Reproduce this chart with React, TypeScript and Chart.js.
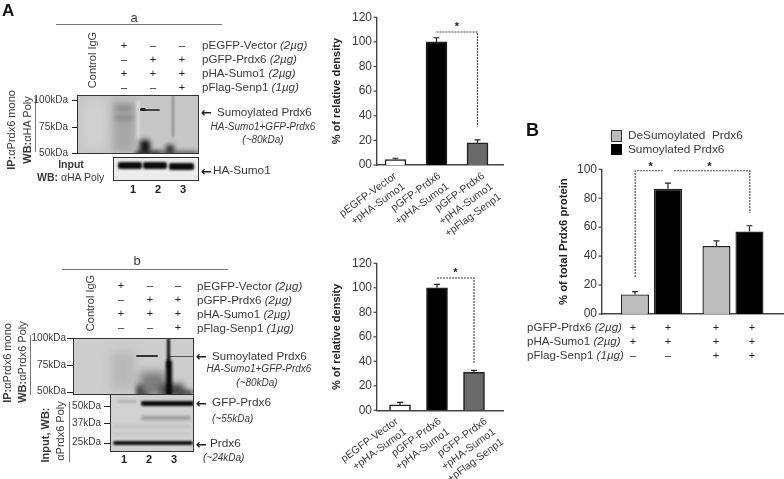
import React, { useEffect, useRef } from "react";
import { Chart, registerables } from "chart.js";

Chart.register(...registerables);

// ---------- data ----------
const barLabelsA: string[][] = [
  ["pEGFP-Vector", "+pHA-Sumo1"],
  ["pGFP-Prdx6", "+pHA-Sumo1"],
  ["pGFP-Prdx6", "+pHA-Sumo1", "+pFlag-Senp1"],
];
const densityA = [4.5, 100, 18];
const densityErrA = [1, 3.4, 2.4];
const densityB = [4.5, 100, 31];
const densityErrB = [2, 2.8, 1.6];
const barFills = ["#ffffff", "#000000", "#6a6a6a"];
const groupLabels = ["Vector", "Senp1"];
const deSumoValues = [13.5, 47];
const deSumoErr = [2, 3.5];
const sumoValues = [86.5, 57];
const sumoErr = [4, 4];
const ticksA = [0, 20, 40, 60, 80, 100, 120];
const ticksB = [0, 20, 40, 60, 80, 100];
const bracketsA = [{ from: 2, to: 3, level: 108, leftDrop: 108, rightDrop: 31, star: 2.5, starLevel: 114 }];
const bracketsB = [{ from: 2, to: 3, level: 108, leftDrop: 108, rightDrop: 38, star: 2.5, starLevel: 114 }];
const bracketsC = [
  { from: 0.8, to: 1.137, level: 99, leftDrop: 25.5, rightDrop: 99, star: 0.99, starLevel: 103 },
  { from: 1.276, to: 2.207, level: 99, leftDrop: 99, rightDrop: 70, star: 1.71, starLevel: 103 },
];

const FONT = "'Liberation Sans', Arial, sans-serif";
const INK = "#3a3a3a";

// ---------- chart plugin ----------
type Bracket = (typeof bracketsA)[number];
const annotate = (brackets: Bracket[]) => ({
  id: "annotate",
  afterDatasetsDraw(chart: any) {
    const { ctx, scales } = chart;
    const x = scales.x;
    const y = scales.y;
    ctx.save();
    chart.data.datasets.forEach((ds: any, di: number) => {
      const meta = chart.getDatasetMeta(di);
      meta.data.forEach((bar: any, i: number) => {
        const top = y.getPixelForValue(ds.data[i].y + ds.errors[i]);
        ctx.strokeStyle = "#222";
        ctx.lineWidth = 1.2;
        ctx.beginPath();
        ctx.moveTo(bar.x, bar.y);
        ctx.lineTo(bar.x, top);
        ctx.moveTo(bar.x - 3, top);
        ctx.lineTo(bar.x + 3, top);
        ctx.stroke();
      });
    });
    ctx.strokeStyle = "#444";
    ctx.lineWidth = 1.1;
    ctx.setLineDash([2, 1]);
    brackets.forEach((b) => {
      ctx.beginPath();
      ctx.moveTo(x.getPixelForValue(b.from), y.getPixelForValue(b.leftDrop));
      ctx.lineTo(x.getPixelForValue(b.from), y.getPixelForValue(b.level));
      ctx.lineTo(x.getPixelForValue(b.to), y.getPixelForValue(b.level));
      ctx.lineTo(x.getPixelForValue(b.to), y.getPixelForValue(b.rightDrop));
      ctx.stroke();
    });
    ctx.setLineDash([]);
    ctx.fillStyle = "#222";
    ctx.font = `bold 11px ${FONT}`;
    ctx.textAlign = "center";
    ctx.textBaseline = "middle";
    brackets.forEach((b) => {
      ctx.fillText("*", x.getPixelForValue(b.star), y.getPixelForValue(b.starLevel) + 2);
    });
    ctx.restore();
  },
});

interface PanelProps {
  left: number; top: number; width: number; height: number;
  axisX: number; axisRight: number; axisTop: number; axisBottom: number;
  xMin: number; xMax: number; yMax: number; yTicks: number[]; yTitle: string;
  labels: string[][]; labelShift?: number[]; datasets: any[]; brackets: Bracket[]; titleSize: number;
  barOpts: any;
}

function Panel(p: PanelProps) {
  const ref = useRef<HTMLCanvasElement>(null);
  useEffect(() => {
    const chart = new Chart(ref.current as HTMLCanvasElement, {
      type: "bar",
      data: { datasets: p.datasets },
      options: {
        animation: false,
        responsive: false,
        events: [],
        layout: {
          padding: { top: p.axisTop - p.top, right: p.left + p.width - p.axisRight, left: 0, bottom: 0 },
        },
        plugins: { legend: { display: false }, tooltip: { enabled: false } },
        datasets: { bar: p.barOpts },
        scales: {
          x: {
            type: "linear",
            offset: false,
            min: p.xMin,
            max: p.xMax,
            grid: { display: false },
            border: { color: "#444", width: 1.4 },
            afterBuildTicks(s: any) {
              s.ticks = p.labels.map((_, i) => ({ value: i + 1 }));
            },
            afterFit(s: any) {
              s.height = p.top + p.height - p.axisBottom;
              s.paddingLeft = 0; s.paddingRight = 0;
            },
            ticks: { display: false },
          },
          y: {
            min: 0,
            max: p.yMax,
            grid: { display: false, drawTicks: false },
            border: { color: "#444", width: 1.4 },
            afterBuildTicks(s: any) {
              s.ticks = p.yTicks.map((value) => ({ value }));
            },
            afterFit(s: any) {
              s.width = p.axisX - p.left;
              s.paddingTop = 0; s.paddingBottom = 0;
            },
            title: {
              display: true,
              text: p.yTitle,
              color: "#222",
              padding: { top: 0, bottom: 0 },
              font: { family: FONT, size: p.titleSize, weight: "bold" },
            },
            ticks: {
              color: INK,
              padding: 5,
              font: { family: FONT, size: 12 },
              callback: (v: any) => (Number(v) === 0 ? "00" : String(v)),
            },
          },
        },
      } as any,
      plugins: [
        annotate(p.brackets),
        {
          id: "axisMarks",
          afterDraw(c: any) {
            const { ctx, scales } = c;
            ctx.save();
            ctx.strokeStyle = "#444";
            ctx.lineWidth = 1.2;
            p.yTicks.forEach((t) => {
              const yy = scales.y.getPixelForValue(t);
              ctx.beginPath();
              ctx.moveTo(scales.x.left - 3.5, yy);
              ctx.lineTo(scales.x.left, yy);
              ctx.stroke();
            });
            if (p.labelShift) {
              ctx.fillStyle = INK;
              ctx.font = `10.5px ${FONT}`;
              ctx.textAlign = "right";
              ctx.textBaseline = "middle";
              p.labels.forEach((lines, i) => {
                lines.forEach((text, k) => {
                  ctx.save();
                  ctx.translate(
                    scales.x.getPixelForValue(i + 1) + (p.labelShift as number[])[i] + 8.2 * k,
                    scales.y.bottom + 10 + 10.4 * k
                  );
                  ctx.rotate((-36 * Math.PI) / 180);
                  ctx.fillText(text, 0, 0);
                  ctx.restore();
                });
              });
            }
            ctx.restore();
          },
        },
      ],
    });
    return () => chart.destroy();
  }, []);
  return (
    <canvas
      ref={ref}
      width={p.width}
      height={p.height}
      style={{ position: "absolute", left: p.left, top: p.top, width: p.width, height: p.height }}
    />
  );
}

// ---------- text helpers ----------
function T(props: {
  x: number; y: number; s?: number; b?: boolean; i?: boolean; a?: "l" | "c" | "r"; rot?: boolean;
  c?: string; f?: string; children: React.ReactNode;
}) {
  const { x, y, s = 11.5, b, i, a = "l", rot, c = INK, f = FONT, children } = props;
  const tx = a === "l" ? "0" : a === "c" ? "-50%" : "-100%";
  return (
    <div
      style={{
        position: "absolute", left: x, top: y, whiteSpace: "pre", lineHeight: 1, fontFamily: f, fontSize: s,
        fontWeight: b ? 700 : 400, fontStyle: i ? "italic" : "normal", color: c,
        transform: rot ? "translate(-50%,-50%) rotate(-90deg)" : `translate(${tx},-50%)`,
      }}
    >
      {children}
    </div>
  );
}
const Line = ({ x, y, w, h, c = "#777" }: { x: number; y: number; w: number; h: number; c?: string }) => (
  <div style={{ position: "absolute", left: x, top: y, width: w, height: h, background: c }} />
);
const Arrow = ({ x, y }: { x: number; y: number }) => (
  <T x={x} y={y} s={13} b c="#222" f="'DejaVu Sans', sans-serif">←</T>
);

type Smear = [number, number, number, number, string, number];
function Blot({ x, y, w, h, bg, smears }: { x: number; y: number; w: number; h: number; bg: string; smears: Smear[] }) {
  return (
    <div
      style={{
        position: "absolute", left: x, top: y, width: w, height: h, background: bg, overflow: "hidden",
        boxSizing: "border-box", border: "1px solid #333",
      }}
    >
      {smears.map(([sx, sy, sw, sh, c, bl], k) => (
        <div
          key={k}
          style={{
            position: "absolute", left: sx - x - 1, top: sy - y - 1, width: sw, height: sh, background: c,
            filter: `blur(${bl}px)`, borderRadius: 2,
          }}
        />
      ))}
    </div>
  );
}

function Signs({ xs, ys, rows }: { xs: number[]; ys: number[]; rows: string[] }) {
  return (
    <>
      {rows.map((row, r) =>
        row.split("").map((ch, k) => (
          <T key={`${r}-${k}`} x={xs[k]} y={ys[r]} a="c" s={11} c="#222">
            {ch === "+" ? "+" : "–"}
          </T>
        ))
      )}
    </>
  );
}

const MU = "\u00b5g";
const planRows = [
  ["pEGFP-Vector ", `(2${MU})`],
  ["pGFP-Prdx6 ", `(2${MU})`],
  ["pHA-Sumo1 ", `(2${MU})`],
  ["pFlag-Senp1 ", `(1${MU})`],
];
const signRows = ["+--", "-++", "+++", "--+"];
const signRowsB = ["++++", "++++", "--++"];
const planRowsB = [
  ["pGFP-Prdx6 ", `(2${MU})`],
  ["pHA-Sumo1 ", `(2${MU})`],
  ["pFlag-Senp1 ", `(1${MU})`],
];

const single = (vals: number[], errs: number[]) => [
  {
    data: vals.map((y, i) => ({ x: i + 1, y })),
    errors: errs,
    backgroundColor: barFills,
    borderColor: "#222",
    borderWidth: 1.6,
  },
];
const pairs = [
  {
    label: "DeSumoylated  Prdx6",
    data: deSumoValues.map((y, i) => ({ x: i + 1, y })),
    errors: deSumoErr,
    backgroundColor: "#bdbdbd",
    borderColor: "#222",
    borderWidth: 1.4,
  },
  {
    label: "Sumoylated Prdx6",
    data: sumoValues.map((y, i) => ({ x: i + 1, y })),
    errors: sumoErr,
    backgroundColor: "#000000",
    borderColor: "#222",
    borderWidth: 1.4,
  },
];

export default function App() {
  return (
    <div
      style={{
        position: "absolute", left: 0, top: 0, width: 784, height: 479, overflow: "hidden",
        filter: "blur(0.4px)", opacity: 0.999, willChange: "opacity",
      }}
    >
      {/* Panel A a */}
      <T x={2} y={10} s={17} b c="#111">A</T>
      <T x={134} y={17} s={13} a="c">a</T>
      <Line x={56} y={23.5} w={166} h={1} />
      <T x={92} y={60} s={11} rot>Control IgG</T>
      <Signs xs={[124, 153, 182]} ys={[45, 59, 73, 87]} rows={signRows} />
      {planRows.map(([n, d], k) => (
        <T key={k} x={202} y={[45, 59, 73, 87][k]} s={11.6}>{n}<i>{d}</i></T>
      ))}
      <T x={11} y={130} s={11} rot><b>IP:</b>αPrdx6 mono</T>
      <T x={27} y={130} s={11} rot><b>WB:</b>αHA Poly</T>
      <Line x={35} y={97} w={1} h={55} />
      <T x={68} y={100} s={10} a="r">100kDa</T>
      <T x={68} y={127} s={10} a="r">75kDa</T>
      <T x={68} y={153} s={10} a="r">50kDa</T>
      <Line x={72} y={99.5} w={5} h={1} c="#222" />
      <Line x={72} y={126.5} w={5} h={1} c="#222" />
      <Line x={72} y={152.5} w={5} h={1} c="#222" />
      <Blot
        x={77} y={95} w={122} h={59} bg="#c6c6c6"
        smears={[
          [82, 100, 26, 50, "#cfcfcf", 5],
          [113, 100, 22, 52, "#a6a6a6", 4],
          [115, 106, 18, 4, "#888", 2],
          [115, 115, 18, 6, "#8c8c8c", 2.5],
          [137, 100, 3, 40, "#ddd", 1.5],
          [141, 108.5, 19, 2, "#444", 0.6],
          [140, 108, 6, 2.5, "#222", 0.7],
          [140, 140, 10, 16, "#111", 2.5],
          [135, 151, 25, 5, "#333", 2],
          [166, 145, 8, 12, "#222", 2.5],
          [172, 95, 2, 42, "#888", 0.8],
          [152, 151, 46, 4, "#555", 2],
        ]}
      />
      <T x={71} y={164} s={10.5} a="c" b>Input</T>
      <T x={37} y={177} s={10.5}><b>WB:</b> αHA Poly</T>
      <Blot
        x={113} y={157} w={86} h={24} bg="#ececec"
        smears={[
          [118, 162, 24, 7, "#0c0c0c", 1],
          [143, 162, 24, 7, "#0c0c0c", 1],
          [169, 163, 25, 7, "#0c0c0c", 1],
        ]}
      />
      <Arrow x={201} y={112} />
      <T x={217} y={112} s={11.6}>Sumoylated Prdx6</T>
      <T x={263} y={127} s={10} a="c" i>HA-Sumo1+GFP-Prdx6</T>
      <T x={263} y={140} s={10} a="c" i>(~80kDa)</T>
      <Arrow x={201} y={171} />
      <T x={213} y={171} s={11.8}>HA-Sumo1</T>
      {["1", "2", "3"].map((n, k) => (
        <T key={n} x={[133, 158, 183][k]} y={189} s={11} a="c" b c="#222">{n}</T>
      ))}

      {/* Panel A b */}
      <T x={137} y={260} s={13} a="c">b</T>
      <Line x={62} y={268.5} w={166} h={1} />
      <T x={90} y={303} s={11} rot>Control IgG</T>
      <Signs xs={[121, 150, 178]} ys={[285, 299, 313, 327]} rows={signRows} />
      {planRows.map(([n, d], k) => (
        <T key={k} x={197} y={[286, 300, 314, 328][k]} s={11.6}>{n}<i>{d}</i></T>
      ))}
      <T x={7} y={363} s={11} rot><b>IP:</b>αPrdx6 mono</T>
      <T x={22} y={362} s={11} rot><b>WB:</b>αPrdx6 Poly</T>
      <Line x={30} y={335} w={1} h={60} />
      <T x={66} y={338} s={10} a="r">100kDa</T>
      <T x={66} y={365} s={10} a="r">75kDa</T>
      <T x={66} y={391} s={10} a="r">50kDa</T>
      <Line x={67} y={337.5} w={6} h={1} c="#222" />
      <Line x={67} y={364.5} w={6} h={1} c="#222" />
      <Line x={67} y={391.5} w={6} h={1} c="#222" />
      <Blot
        x={73} y={338} w={121} h={57} bg="#cdcdcd"
        smears={[
          [111, 352, 24, 38, "#b9b9b9", 4],
          [136, 355, 22, 2, "#333", 0.7],
          [168, 355.5, 25, 1.6, "#555", 0.7],
          [137, 385, 12, 12, "#111", 2.5],
          [140, 372, 26, 24, "#7d7d7d", 4],
          [160, 384, 24, 12, "#444", 3],
          [167, 338, 3, 30, "#0a0a0a", 0.9],
          [166, 360, 6, 36, "#050505", 1.4],
          [178, 390, 15, 5, "#444", 2],
        ]}
      />
      <Blot
        x={110} y={394} w={84} h={58} bg="#d2d2d2"
        smears={[
          [117, 400, 20, 3, "#b5b5b5", 1.2],
          [141, 401, 53, 5, "#0a0a0a", 1],
          [141, 416, 50, 4, "#9a9a9a", 1.5],
          [113, 425, 78, 3, "#c0c0c0", 1.5],
          [113, 433, 78, 2, "#c0c0c0", 1.5],
          [113, 441, 80, 4, "#0d0d0d", 1],
        ]}
      />
      <Arrow x={196} y={356} />
      <T x={212} y={356} s={11.6}>Sumoylated Prdx6</T>
      <T x={259} y={369} s={10} a="c" i>HA-Sumo1+GFP-Prdx6</T>
      <T x={257} y={383} s={10} a="c" i>(~80kDa)</T>
      <T x={101} y={406} s={10} a="r">50kDa</T>
      <T x={101} y={423} s={10} a="r">37kDa</T>
      <T x={101} y={442} s={10} a="r">25kDa</T>
      <Line x={104} y={406} w={6} h={1} c="#222" />
      <Line x={104} y={423} w={6} h={1} c="#222" />
      <Line x={104} y={443} w={6} h={1} c="#222" />
      <T x={45} y={435} s={11} b rot>Input, WB:</T>
      <T x={60} y={431} s={11} rot>αPrdx6 Poly</T>
      <Line x={69} y={402} w={1} h={60} />
      <Arrow x={196} y={403} />
      <T x={212} y={403} s={11.8}>GFP-Prdx6</T>
      <T x={212} y={419} s={10} i>(~55kDa)</T>
      <Arrow x={196} y={444} />
      <T x={210} y={444} s={11.8}>Prdx6</T>
      <T x={203} y={458} s={10} i>(~24kDa)</T>
      {["1", "2", "3"].map((n, k) => (
        <T key={n} x={[124, 149, 174][k]} y={459} s={11} a="c" b c="#222">{n}</T>
      ))}

      {/* Bar charts */}
      <Panel
        left={330} top={0} width={185} height={240} axisX={377} axisRight={503} axisTop={17.3} axisBottom={165}
        xMin={0.549} xMax={3.622} yMax={120} yTicks={ticksA} yTitle="% of relative density" titleSize={11}
        labels={barLabelsA} labelShift={[0, 3, 6]} datasets={single(densityA, densityErrA)} brackets={bracketsA}
        barOpts={{ barThickness: 21 }}
      />
      <Panel
        left={330} top={250} width={185} height={229} axisX={377} axisRight={503} axisTop={263.3} axisBottom={410.3}
        xMin={0.378} xMax={3.784} yMax={120} yTicks={ticksA} yTitle="% of relative density" titleSize={11}
        labels={barLabelsA} labelShift={[-3, 3, 12]} datasets={single(densityB, densityErrB)} brackets={bracketsB}
        barOpts={{ barThickness: 21 }}
      />
      <Panel
        left={557} top={155} width={227} height={165} axisX={602} axisRight={783} axisTop={169.3} axisBottom={314}
        xMin={0.393} xMax={2.614} yMax={100} yTicks={ticksB} yTitle="% of total Prdx6 protein" titleSize={11.3}
        labels={groupLabels.map((g) => [g])} datasets={pairs} brackets={bracketsC}
        barOpts={{ categoryPercentage: 0.81, barPercentage: 0.85 }}
      />

      {/* Panel B */}
      <T x={526} y={130} s={18} b c="#111">B</T>
      <div style={{ position: "absolute", left: 611, top: 130, width: 11, height: 12, background: "#bdbdbd", border: "1px solid #333", boxSizing: "border-box" }} />
      <div style={{ position: "absolute", left: 611, top: 144, width: 11, height: 11, background: "#000" }} />
      <T x={628} y={136} s={11.8}>{pairs[0].label}</T>
      <T x={628} y={150} s={11.8}>{pairs[1].label}</T>
      {planRowsB.map(([n, d], k) => (
        <T key={k} x={527} y={[327, 341, 355][k]} s={11.6}>{n}<i>{d}</i></T>
      ))}
      <Signs xs={[633, 668, 716, 752]} ys={[327, 341, 355]} rows={signRowsB} />
    </div>
  );
}
